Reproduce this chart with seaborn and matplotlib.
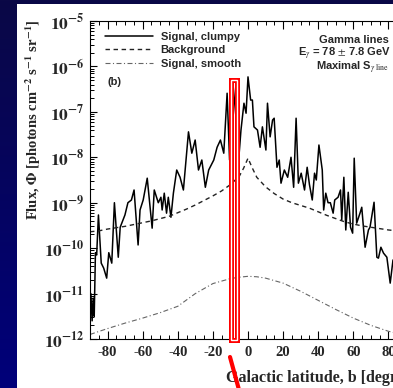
import numpy as np
import pandas as pd
import matplotlib
matplotlib.use("Agg")
import matplotlib.pyplot as plt
import seaborn as sns
from matplotlib.patches import Rectangle
from matplotlib.lines import Line2D
from matplotlib.ticker import MultipleLocator, LogLocator, NullFormatter
from matplotlib.colors import LinearSegmentedColormap

# ---------------- data ----------------
clumpy_lat = [-89.5, -88.8, -88.2, -87.6, -86.9, -86.2, -85.2, -83.6, -82.2, -80.5,
              -79.3, -77.6, -76.1, -73.9, -72.8, -70.1, -68.4, -66.4, -64.9, -62.6,
              -61.5, -59.7, -57.4, -54.6, -53.4, -51.1, -49.6, -48.9, -47.7, -46.4,
              -45.4, -43.9, -42.5, -40.6, -38.7, -36.8, -33.9, -32.0, -30.1, -28.2,
              -26.3, -24.3, -22.4, -19.5, -17.6, -15.7, -13.8, -11.9, -10.5, -8.6,
              -6.7, -5.2, -4.0, -2.3, -1.1, 0.0, 1.5, 2.5, 3.4, 5.4,
              6.9, 8.2, 10.2, 11.1, 12.6, 14.0, 14.9, 16.5, 17.8, 18.8,
              20.7, 22.6, 24.5, 26.0, 27.4, 28.7, 30.3, 32.2, 33.7, 35.0,
              36.6, 37.9, 38.9, 40.4, 42.3, 43.1, 44.3, 45.6, 46.9, 48.5,
              49.4, 51.3, 52.7, 53.4, 54.6, 55.7, 57.1, 58.4, 59.6, 60.5,
              61.9, 63.8, 64.8, 66.7, 68.6, 69.5, 71.8, 73.4, 74.3, 75.7,
              77.2, 79.1, 81.0, 82.6, 84.5, 86.0, 88.0, 89.5]
clumpy_log10 = [-11.0, -11.6, -11.1, -11.5, -10.1, -10.15, -9.27, -10.33, -10.44, -10.66,
                -10.1, -10.33, -9.0, -10.2, -9.54, -9.27, -9.0, -8.94, -8.72, -9.93,
                -9.16, -8.94, -8.46, -9.56, -8.72, -9.0, -8.88, -9.16, -8.79, -9.23,
                -8.88, -9.32, -8.79, -8.28, -8.44, -8.72, -7.44, -7.91, -7.62, -8.28,
                -8.06, -8.66, -8.28, -8.06, -7.78, -7.62, -7.91, -6.59, -8.06, -6.37,
                -7.18, -8.0, -7.4, -6.81, -7.03, -6.23, -6.74, -6.74, -7.33, -7.4,
                -7.78, -7.33, -7.84, -6.81, -7.55, -7.18, -7.14, -8.22, -8.06, -8.57,
                -8.28, -8.44, -8.0, -8.66, -7.14, -8.57, -8.35, -8.72, -8.22, -8.6,
                -8.94, -8.35, -8.5, -7.73, -8.28, -9.16, -8.79, -9.0, -9.0, -9.23,
                -8.94, -8.88, -8.72, -9.38, -8.44, -9.6, -8.77, -9.54, -9.67, -8.02,
                -9.45, -9.23, -9.1, -9.98, -9.6, -9.54, -8.99, -10.2, -10.22, -9.98,
                -10.11, -10.2, -10.77, -10.26, -10.6, -10.3, -10.9, -10.7]

bkg_lat = [-90, -85, -80, -75, -70, -65, -60, -55, -50, -45, -40, -35, -30, -25,
           -20, -15, -10, -5, -2.5, 0, 2.5, 5, 10, 15, 20, 25, 30, 35, 40, 45,
           50, 55, 60, 65, 70, 75, 80, 85, 90]
bkg_log10 = [-9.64, -9.62, -9.58, -9.55, -9.52, -9.48, -9.44, -9.40, -9.35, -9.30,
             -9.22, -9.14, -9.05, -8.95, -8.85, -8.74, -8.60, -8.42, -8.24, -8.02,
             -8.24, -8.44, -8.65, -8.80, -8.92, -9.0, -9.06, -9.12, -9.2, -9.28,
             -9.35, -9.42, -9.47, -9.51, -9.54, -9.57, -9.60, -9.62, -9.64]

smooth_lat = [-90, -80, -70, -60, -50, -40, -30, -20, -10, -5, 0, 5, 10, 20,
              30, 40, 50, 60, 70, 80, 90]
smooth_log10 = [-11.9, -11.77, -11.65, -11.54, -11.42, -11.28, -11.0, -10.78, -10.67,
                -10.64, -10.62, -10.63, -10.66, -10.77, -10.95, -11.15, -11.35,
                -11.54, -11.70, -11.83, -11.92]

x_ticks = [-80, -60, -40, -20, 0, 20, 40, 60, 80]
x_ticklabels = ["-80", "-60", "-40", "-20", "0", "20", "40", "60", "80"]
y_exponents = [-12, -11, -10, -9, -8, -7, -6, -5]

legend_labels = ["Signal, clumpy", "Background", "Signal, smooth"]

# ---------------- figure ----------------
sns.set_style("ticks")
plt.rcParams.update({
    "font.family": ["Liberation Sans", "DejaVu Sans"],
    "mathtext.fontset": "stix",
    "axes.unicode_minus": False,
})

W, H = 393, 388
fig = plt.figure(figsize=(W / 100, H / 100), dpi=100)

# background (slide gradient + white panel)
bg = fig.add_axes([0, 0, 1, 1], zorder=0)
bg.axis("off")
cmap = LinearSegmentedColormap.from_list("bg", ["#0a0846", "#00007a"])
bg.imshow(np.linspace(0, 1, 256)[:, None], cmap=cmap, aspect="auto",
          extent=[0, 1, 0, 1], origin="upper")
bg.add_patch(Rectangle((17 / W, 0), 1, 1 - 4 / H, facecolor="white",
                       edgecolor="none", transform=bg.transAxes))
bg.set_xlim(0, 1)
bg.set_ylim(0, 1)

ax = fig.add_axes([90 / W, 1 - 339 / H, (406 - 90) / W, (339 - 21) / H], zorder=1)
ax.set_facecolor("white")

df_c = pd.DataFrame({"lat": clumpy_lat, "flux": 10.0 ** np.array(clumpy_log10)})
df_b = pd.DataFrame({"lat": bkg_lat, "flux": 10.0 ** np.array(bkg_log10)})
df_s = pd.DataFrame({"lat": smooth_lat, "flux": 10.0 ** np.array(smooth_log10)})

sty_c = dict(color="black", lw=1.1, linestyle="-")
sty_b = dict(color="#222222", lw=1.0, linestyle=(0, (3.2, 2.6)))
sty_s = dict(color="#666666", lw=0.8, linestyle=(0, (4.5, 2.2, 1.0, 2.2)))

sns.lineplot(data=df_c, x="lat", y="flux", ax=ax, estimator=None, **sty_c)
sns.lineplot(data=df_b, x="lat", y="flux", ax=ax, estimator=None, **sty_b)
sns.lineplot(data=df_s, x="lat", y="flux", ax=ax, estimator=None, **sty_s)

ax.set_yscale("log")
ax.set_xlim(-90, 90)
ax.set_ylim(1e-12, 1e-5)
ax.set_xlabel("")
ax.set_ylabel("")

ax.set_xticks(x_ticks)
ax.set_xticklabels(x_ticklabels, fontfamily="Liberation Serif",
                   fontweight="bold", fontsize=10.5)
ax.xaxis.set_minor_locator(MultipleLocator(5))
ax.set_yticks([10.0 ** e for e in y_exponents])
ax.set_yticklabels([r"$\mathbf{10^{%d}}$" % e for e in y_exponents], fontsize=12.5)
ax.yaxis.set_minor_locator(LogLocator(base=10, subs=np.arange(2, 10), numticks=30))
ax.yaxis.set_minor_formatter(NullFormatter())

ax.tick_params(axis="both", which="both", direction="in", top=True, right=True,
               color="black")
ax.tick_params(axis="x", which="major", length=6, width=0.8, pad=5)
ax.tick_params(axis="x", which="minor", length=3.2, width=0.7)
ax.tick_params(axis="y", which="major", length=5, width=0.8, pad=4)
ax.tick_params(axis="y", which="minor", length=2.6, width=0.7)
for s in ax.spines.values():
    s.set_linewidth(0.8)
    s.set_color("black")

# legend
handles = [Line2D([], [], **sty_c), Line2D([], [], **sty_b), Line2D([], [], **sty_s)]
ax.legend(handles, legend_labels, loc="upper left",
          bbox_to_anchor=(105 / W, 1 - 32 / H), bbox_transform=fig.transFigure,
          frameon=False, prop={"family": "Liberation Sans", "weight": "bold", "size": 8},
          handlelength=4.3, handletextpad=0.7, labelspacing=0.3,
          borderpad=0, borderaxespad=0)

tkw = dict(fontfamily="Liberation Sans", fontweight="bold", fontsize=8,
           va="baseline", zorder=5)
fig.text(107 / W, 1 - 85 / H, "(b)", ha="left", **tkw)
fig.text(389 / W, 1 - 43 / H, "Gamma lines", ha="right", **tkw)
fig.text(391 / W, 1 - 56 / H, r"E$_{\gamma}$ = 78 $\pm$ 7.8 GeV", ha="right", **tkw)
fig.text(389 / W, 1 - 71 / H, r"Maximal S$_{\gamma\ \mathrm{line}}$", ha="right", **tkw)

# axis titles
fig.text(33 / W, 1 - 19 / H,
         r"Flux, $\mathbf{\Phi}$ [photons cm$^{\mathbf{-2}}$ s$^{\mathbf{-1}}$ sr$^{\mathbf{-1}}$]",
         rotation=90, ha="center", va="top", fontfamily="Liberation Serif",
         fontweight="bold", fontsize=10.5, zorder=5)
fig.text(226 / W, 1 - 378 / H, "Galactic latitude, b [degrees]", ha="left",
         va="center", fontfamily="Liberation Serif", fontweight="bold",
         fontsize=11.5, zorder=5)

# red highlight annotation
fig.add_artist(Rectangle((231 / W, 1 - 340 / H), 6 / W, 260 / H, fill=False,
                         edgecolor="red", lw=3.6, transform=fig.transFigure, zorder=6))
fig.add_artist(Rectangle((231 / W, 1 - 340 / H), 6 / W, 260 / H, fill=False,
                         edgecolor="white", lw=1.0, transform=fig.transFigure, zorder=7))
fig.add_artist(Line2D([230 / W, 238.5 / W], [1 - 357 / H, 0], color="red", lw=3,
                      transform=fig.transFigure, zorder=6))

fig.savefig("out.png", dpi=100)
